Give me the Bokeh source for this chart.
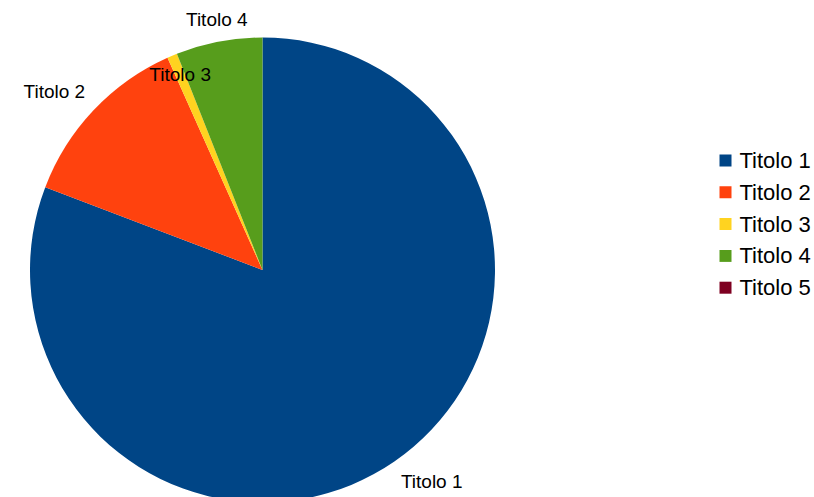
import math
from bokeh.plotting import figure
from bokeh.models import ColumnDataSource, Range1d
from bokeh.core.properties import value
from bokeh.embed import file_html
from bokeh.resources import INLINE

# ---- data ----
categories = ["Titolo 1", "Titolo 2", "Titolo 3", "Titolo 4", "Titolo 5"]
values = [80.8, 12.5, 0.7, 6.0, 0.0]
colors = ["#004586", "#ff420e", "#ffd320", "#579d1c", "#7e0021"]

# ---- layout (pixels) ----
W, H = 814, 497
CX, CY = 262, H - 269.5
R = 232.5
label_layout = {  # radius of anchor, text_align, text_baseline
    "Titolo 1": (244, "left", "top"),
    "Titolo 2": (244, "right", "bottom"),
    "Titolo 3": (212, "center", "middle"),
    "Titolo 4": (244, "center", "bottom"),
}
LEG_X, LEG_Y0, LEG_DY = 725, H - 160, 31.8

total = sum(values)
starts, ends, mids = [], [], []
cum = 0.0
for v in values:
    a0 = cum / total * 2 * math.pi
    cum += v
    a1 = cum / total * 2 * math.pi
    starts.append(math.pi / 2 - a0)
    ends.append(math.pi / 2 - a1)
    mids.append((a0 + a1) / 2)

idx = [i for i, v in enumerate(values) if v > 0]
wedges = ColumnDataSource(dict(
    start=[starts[i] for i in idx], end=[ends[i] for i in idx],
    color=[colors[i] for i in idx],
))

p = figure(width=W, height=H, output_backend="svg", toolbar_location=None,
           x_range=Range1d(0, W), y_range=Range1d(0, H),
           min_border=0, min_border_left=0, min_border_right=0,
           min_border_top=0, min_border_bottom=0)
p.axis.visible = False
p.grid.visible = False
p.outline_line_color = None
p.background_fill_color = "white"
p.border_fill_color = "white"

p.wedge(x=CX, y=CY, radius=R, start_angle="start", end_angle="end",
        direction="clock", fill_color="color", line_color=None, source=wedges)

# slice labels
for i in idx:
    name = categories[i]
    r, align, base = label_layout[name]
    th = mids[i]
    p.text(x=[CX + r * math.sin(th)], y=[CY + r * math.cos(th)], text=[name],
           text_font=value("Liberation Sans"), text_font_size="19px",
           text_color="black", text_align=align, text_baseline=base)

# legend
leg = ColumnDataSource(dict(
    x=[LEG_X] * len(categories),
    y=[LEG_Y0 - k * LEG_DY for k in range(len(categories))],
    tx=[LEG_X + 14] * len(categories),
    label=categories, color=colors,
))
p.scatter(x="x", y="y", marker="square", size=12, fill_color="color",
          line_color=None, source=leg)
p.text(x="tx", y="y", text="label", source=leg,
       text_font=value("Liberation Sans"), text_font_size="22px",
       text_color="black", text_align="left", text_baseline="middle")

open("out.html", "w").write(file_html(p, INLINE))
